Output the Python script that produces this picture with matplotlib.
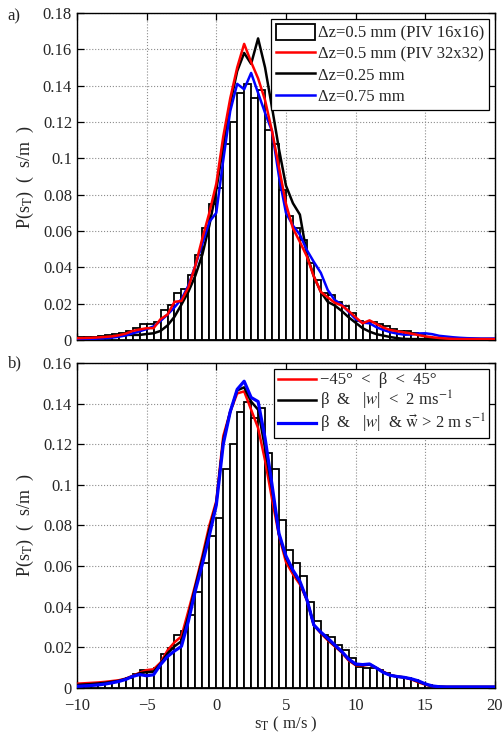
import numpy as np
import matplotlib
matplotlib.use("Agg")
import matplotlib.pyplot as plt
from matplotlib.patches import Patch
from matplotlib.lines import Line2D

plt.rcParams['font.family'] = ['Liberation Serif', 'DejaVu Serif']
plt.rcParams['mathtext.fontset'] = 'stix'
plt.rcParams['font.size'] = 12

# histogram of s_T, bins of 0.5 m/s from -10 to 20
bin_edges = np.arange(-10, 20.01, 0.5)
hist_vals = [0.0015, 0.0017, 0.0019, 0.0022, 0.0028, 0.0032, 0.0037, 0.0050, 0.0068, 0.0090,
             0.0090, 0.0098, 0.0165, 0.0195, 0.0260, 0.0278, 0.0360, 0.0470, 0.0615, 0.0750,
             0.0836, 0.1080, 0.1200, 0.1360, 0.1410, 0.1330, 0.1377, 0.1156, 0.1080, 0.0826,
             0.0680, 0.0617, 0.0550, 0.0424, 0.0330, 0.0260, 0.0250, 0.0210, 0.0187, 0.0147,
             0.0105, 0.0098, 0.0098, 0.0090, 0.0075, 0.0060, 0.0052, 0.0048, 0.0037, 0.0026,
             0.0016, 0.0010, 0.0006, 0.0004, 0.0, 0.0, 0.0, 0.0, 0.0, 0.0]

# curves, sampled every 0.5 m/s from -10 to 20
s_T = np.arange(-10, 20.01, 0.5)

# panel a
red_a = [0.0010, 0.0011, 0.0012, 0.0014, 0.0017, 0.0020, 0.0026, 0.0035, 0.0050, 0.0058,
         0.0065, 0.0065, 0.0115, 0.0140, 0.0210, 0.0215, 0.0290, 0.0410, 0.0560, 0.0700,
         0.0860, 0.1120, 0.1330, 0.1500, 0.1630, 0.1530, 0.1440, 0.1320, 0.1150, 0.0950,
         0.0750, 0.0615, 0.0540, 0.0460, 0.0350, 0.0265, 0.0235, 0.0205, 0.0190, 0.0160,
         0.0125, 0.0092, 0.0108, 0.0088, 0.0068, 0.0055, 0.0048, 0.0042, 0.0035, 0.0027,
         0.0020, 0.0015, 0.0011, 0.0008, 0.0006, 0.0005, 0.0005, 0.0005, 0.0005, 0.0005, 0.0005]
black_a = [0.0009, 0.0011, 0.0013, 0.0015, 0.0017, 0.0020, 0.0024, 0.0028, 0.0028, 0.0028,
           0.0033, 0.0037, 0.0050, 0.0080, 0.0128, 0.0195, 0.0266, 0.0355, 0.0470, 0.0630,
           0.0826, 0.1070, 0.1300, 0.1480, 0.1580, 0.1520, 0.1660, 0.1500, 0.1280, 0.1050,
           0.0850, 0.0753, 0.0690, 0.0470, 0.0350, 0.0265, 0.0210, 0.0190, 0.0160, 0.0125,
           0.0095, 0.0065, 0.0046, 0.0032, 0.0024, 0.0016, 0.0010, 0.0006, 0.0005, 0.0005,
           0.0005, 0.0005, 0.0005, 0.0005, 0.0005, 0.0005, 0.0005, 0.0005, 0.0005, 0.0005, 0.0005]
blue_a = [0.0003, 0.0004, 0.0006, 0.0008, 0.0010, 0.0013, 0.0018, 0.0025, 0.0037, 0.0048,
          0.0060, 0.0075, 0.0105, 0.0140, 0.0180, 0.0225, 0.0300, 0.0410, 0.0530, 0.0650,
          0.0700, 0.0990, 0.1260, 0.1410, 0.1380, 0.1470, 0.1360, 0.1250, 0.1150, 0.0900,
          0.0700, 0.0630, 0.0580, 0.0495, 0.0430, 0.0370, 0.0275, 0.0220, 0.0195, 0.0155,
          0.0115, 0.0095, 0.0092, 0.0070, 0.0055, 0.0043, 0.0035, 0.0029, 0.0030, 0.0036,
          0.0037, 0.0032, 0.0023, 0.0019, 0.0015, 0.0012, 0.0010, 0.0009, 0.0008, 0.0008, 0.0008]

# panel b
red_b = [0.0021, 0.0023, 0.0025, 0.0027, 0.0030, 0.0034, 0.0038, 0.0046, 0.0060, 0.0075,
         0.0088, 0.0092, 0.0125, 0.0185, 0.0225, 0.0254, 0.0380, 0.0510, 0.0650, 0.0800,
         0.0920, 0.1240, 0.1360, 0.1450, 0.1460, 0.1370, 0.1280, 0.1120, 0.0930, 0.0750,
         0.0620, 0.0560, 0.0510, 0.0433, 0.0310, 0.0270, 0.0235, 0.0205, 0.0175, 0.0135,
         0.0112, 0.0110, 0.0115, 0.0098, 0.0080, 0.0063, 0.0056, 0.0052, 0.0042, 0.0028,
         0.0016, 0.0009, 0.0006, 0.0005, 0.0005, 0.0005, 0.0005, 0.0005, 0.0005, 0.0005, 0.0005]
black_b = [0.0015, 0.0017, 0.0019, 0.0022, 0.0025, 0.0030, 0.0035, 0.0045, 0.0058, 0.0072,
           0.0078, 0.0080, 0.0120, 0.0170, 0.0205, 0.0230, 0.0355, 0.0500, 0.0635, 0.0780,
           0.0910, 0.1220, 0.1360, 0.1465, 0.1480, 0.1410, 0.1370, 0.1180, 0.0980, 0.0755,
           0.0640, 0.0575, 0.0520, 0.0435, 0.0310, 0.0272, 0.0240, 0.0208, 0.0178, 0.0140,
           0.0115, 0.0112, 0.0117, 0.0098, 0.0078, 0.0062, 0.0056, 0.0052, 0.0043, 0.0032,
           0.0018, 0.0009, 0.0006, 0.0005, 0.0005, 0.0005, 0.0005, 0.0005, 0.0005, 0.0005, 0.0005]
blue_b = [0.0008, 0.0010, 0.0012, 0.0015, 0.0019, 0.0025, 0.0032, 0.0042, 0.0057, 0.0066,
          0.0060, 0.0065, 0.0115, 0.0155, 0.0182, 0.0205, 0.0330, 0.0480, 0.0610, 0.0750,
          0.0900, 0.1200, 0.1360, 0.1470, 0.1510, 0.1430, 0.1410, 0.1230, 0.1000, 0.0760,
          0.0650, 0.0580, 0.0525, 0.0436, 0.0310, 0.0275, 0.0245, 0.0212, 0.0180, 0.0142,
          0.0118, 0.0115, 0.0118, 0.0098, 0.0076, 0.0062, 0.0056, 0.0052, 0.0045, 0.0035,
          0.0020, 0.0010, 0.0006, 0.0005, 0.0005, 0.0005, 0.0005, 0.0005, 0.0005, 0.0005, 0.0005]

labels_a = ['Δz=0.5 mm (PIV 16x16)', 'Δz=0.5 mm (PIV 32x32)', 'Δz=0.25 mm', 'Δz=0.75 mm']
labels_b = ['−45°  <  β  <  45°',
            r'β  &   |$w$|  <  2 ms$^{-1}$',
            r'β  &   |$w$|  & $\vec{\mathrm{w}}$ > 2 m s$^{-1}$']

txt = '#262626'
fig = plt.figure(figsize=(5.03, 7.38), dpi=100)
ax1 = fig.add_axes([0.153, 0.5393, 0.831, 0.4431])
ax2 = fig.add_axes([0.153, 0.0678, 0.831, 0.4404])

widths = np.diff(bin_edges)
for ax in (ax1, ax2):
    ax.bar(bin_edges[:-1], hist_vals, width=widths, align='edge', facecolor='white',
           edgecolor='black', linewidth=1.3, zorder=2)

ax1.plot(s_T, black_a, color='black', lw=1.8, zorder=3)
ax1.plot(s_T, blue_a, color='#0000ff', lw=1.8, zorder=4)
ax1.plot(s_T, red_a, color='#ff0000', lw=1.8, zorder=5)

ax2.plot(s_T, red_b, color='#ff0000', lw=1.8, zorder=3)
ax2.plot(s_T, black_b, color='black', lw=1.8, zorder=4)
ax2.plot(s_T, blue_b, color='#0000ff', lw=2.3, zorder=5)

ax1.set_ylim(0, 0.18)
ax1.set_yticks(np.arange(0, 0.181, 0.02))
ax1.set_yticklabels(['0', '0.02', '0.04', '0.06', '0.08', '0.1', '0.12', '0.14', '0.16', '0.18'])
ax2.set_ylim(0, 0.16)
ax2.set_yticks(np.arange(0, 0.161, 0.02))
ax2.set_yticklabels(['0', '0.02', '0.04', '0.06', '0.08', '0.1', '0.12', '0.14', '0.16'])

for ax in (ax1, ax2):
    ax.set_xlim(-10, 20)
    ax.set_xticks([-10, -5, 0, 5, 10, 15, 20])
    ax.set_axisbelow(True)
    ax.grid(True, linestyle=':', color='#8c8c8c', linewidth=0.8)
    ax.tick_params(direction='in', top=True, right=True, length=5, width=0.9,
                   labelsize=12, labelcolor=txt)
    ax.tick_params(axis='x', pad=7)
    for sp in ax.spines.values():
        sp.set_linewidth(1.0)
    ax.set_ylabel('P(s$_\\mathrm{T}$)  (  s/m  )', color=txt, fontsize=13, labelpad=5)

ax1.set_xticklabels([])
ax2.set_xticklabels(['−10', '−5', '0', '5', '10', '15', '20'])
ax2.set_xlabel('s$_\\mathrm{T}$ ( m/s )', color=txt, fontsize=12, labelpad=1)

fig.text(0.015, 0.978, 'a)', color=txt, fontsize=12, va='center')
fig.text(0.015, 0.508, 'b)', color=txt, fontsize=12, va='center')

h_a = [Patch(facecolor='white', edgecolor='black', linewidth=1.3),
       Line2D([], [], color='#ff0000', lw=1.8),
       Line2D([], [], color='black', lw=1.8),
       Line2D([], [], color='#0000ff', lw=1.8)]
leg1 = ax1.legend(h_a, labels_a, loc='upper right', fontsize=12, handlelength=2.3,
                  handleheight=1.1, handletextpad=0.2, labelspacing=0.22, borderpad=0.3,
                  borderaxespad=0.35, fancybox=False, framealpha=1, edgecolor='black')
leg1.get_frame().set_linewidth(0.9)

h_b = [Line2D([], [], color='#ff0000', lw=1.8),
       Line2D([], [], color='black', lw=1.8),
       Line2D([], [], color='#0000ff', lw=2.3)]
leg2 = ax2.legend(h_b, labels_b, loc='upper right', fontsize=12, handlelength=2.3,
                  handletextpad=0.2, labelspacing=0.0, borderpad=0.22, borderaxespad=0.35,
                  fancybox=False, framealpha=1, edgecolor='black')
leg2.get_frame().set_linewidth(0.9)
for t in leg1.get_texts() + leg2.get_texts():
    t.set_color(txt)

fig.savefig('out.png', dpi=100)
